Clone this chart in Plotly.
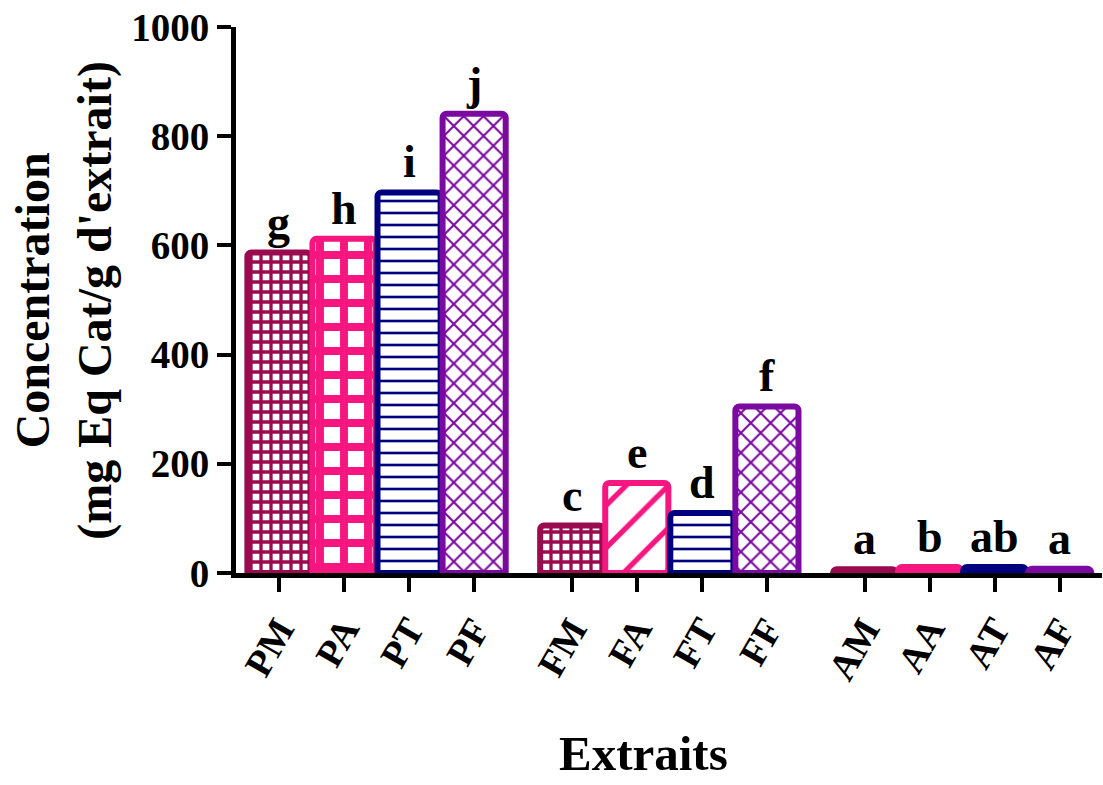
import plotly.graph_objects as go

# ---- data ----
categories = ["PM", "PA", "PT", "PF", "FM", "FA", "FT", "FF", "AM", "AA", "AT", "AF"]
groups = [0, 0, 0, 0, 1, 1, 1, 1, 2, 2, 2, 2]
values = [587, 612, 697, 841, 87, 165, 110, 305, 7, 11, 11, 8]
letters = ["g", "h", "i", "j", "c", "e", "d", "f", "a", "b", "ab", "a"]
y_ticks = [0, 200, 400, 600, 800, 1000]

# ---- styles ----
crimson = "#9A0A4E"
pink = "#F5167F"
navy = "#00007F"
purple = "#7A0AA0"
colors = [crimson, pink, navy, purple, crimson, pink, navy, purple, crimson, pink, navy, purple]
shapes = ["+", "+", "-", "x", "+", "/", "-", "x", "+", "+", "-", "x"]
psizes = [10, 24, 12, 14, 10, 30, 12, 14, 10, 24, 12, 14]
solid = [0.55, 0.55, 0.22, 0.28, 0.55, 0.18, 0.22, 0.28, 0.55, 0.55, 0.22, 0.28]

xpos = [i + 0.5 * g for i, g in enumerate(groups)]

FONT = "Liberation Serif, Times New Roman, serif"

fig = go.Figure()
fig.add_trace(go.Bar(
    x=xpos, y=values, width=0.97,
    marker=dict(
        color=colors,
        line=dict(color=colors, width=6),
        cornerradius=4,
        pattern=dict(shape=shapes, fgcolor=colors, bgcolor="white",
                     size=psizes, solidity=solid, fillmode="replace"),
    ),
    showlegend=False,
    hoverinfo="skip",
))

for x, v, t in zip(xpos, values, letters):
    fig.add_annotation(x=x, y=v, text=t, showarrow=False, xref="x", yref="y",
                       yanchor="bottom", yshift=3,
                       font=dict(family=FONT, size=46, color="black", weight="bold"))

fig.add_annotation(x=-0.199, y=0.5, xref="paper", yref="paper",
                   text="Concentration<br>(mg Eq Cat/g d'extrait)", textangle=-90,
                   showarrow=False, xanchor="center", yanchor="middle",
                   font=dict(family=FONT, size=48, color="black", weight="bold"))
fig.add_annotation(x=0.47, y=-0.385, xref="paper", yref="paper",
                   text="Extraits", showarrow=False, xanchor="center", yanchor="bottom",
                   font=dict(family=FONT, size=49, color="black", weight="bold"))

fig.update_layout(
    width=1103, height=785,
    margin=dict(l=236, r=1, t=27, b=212),
    plot_bgcolor="white", paper_bgcolor="white",
    font=dict(family=FONT, color="black"),
)
fig.update_xaxes(
    range=[-0.66, 12.65],
    tickmode="array", tickvals=xpos, ticktext=categories,
    tickangle=-60,
    tickfont=dict(family=FONT, size=38, color="black", weight="bold"),
    ticks="outside", ticklen=14, tickwidth=4, tickcolor="black",
    showline=True, linewidth=5, linecolor="black",
    showgrid=False, zeroline=False,
)
fig.update_yaxes(
    range=[0, 1000],
    tickmode="array", tickvals=y_ticks,
    tickfont=dict(family=FONT, size=39, color="black", weight="bold"),
    ticks="outside", ticklen=14, tickwidth=4, tickcolor="black",
    showline=True, linewidth=5, linecolor="black",
    showgrid=False, zeroline=False,
)

fig.write_html("out.html")
